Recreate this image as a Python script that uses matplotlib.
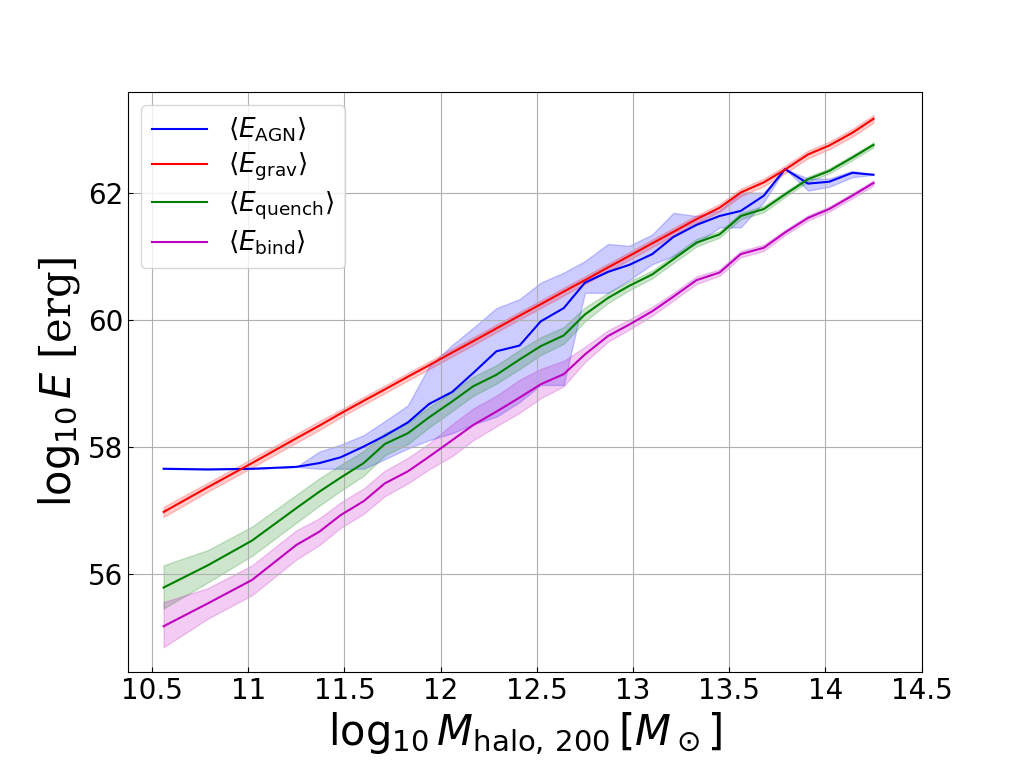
import matplotlib
matplotlib.use("Agg")
import matplotlib.pyplot as plt

# halo mass bins (log10 M_halo,200)
logM = [10.56, 10.79, 11.02, 11.25, 11.37, 11.48, 11.60, 11.71, 11.83, 11.94,
        12.06, 12.17, 12.29, 12.41, 12.52, 12.64, 12.75, 12.87, 12.98, 13.10,
        13.21, 13.33, 13.45, 13.56, 13.68, 13.79, 13.91, 14.02, 14.14, 14.25]

# <E_AGN>
E_agn = [57.65, 57.64, 57.65, 57.68, 57.74, 57.83, 58.00, 58.17, 58.38, 58.67,
         58.86, 59.16, 59.50, 59.59, 59.97, 60.18, 60.58, 60.75, 60.86, 61.03,
         61.30, 61.49, 61.63, 61.71, 61.95, 62.37, 62.14, 62.17, 62.31, 62.28]
E_agn_lo = [57.65, 57.64, 57.65, 57.68, 57.65, 57.65, 57.65, 57.80, 57.97, 58.10,
            58.21, 58.35, 58.47, 58.70, 58.97, 58.97, 60.42, 60.42, 60.62, 60.87,
            61.00, 61.20, 61.45, 61.45, 61.85, 62.37, 62.03, 62.09, 62.24, 62.28]
E_agn_hi = [57.65, 57.64, 57.65, 57.68, 57.92, 58.03, 58.18, 58.40, 58.65, 59.26,
            59.60, 59.87, 60.18, 60.32, 60.58, 60.74, 60.92, 61.19, 61.16, 61.34,
            61.68, 61.63, 61.72, 62.00, 62.00, 62.37, 62.22, 62.22, 62.34, 62.28]

# <E_grav>
E_grav = [56.97, 57.36, 57.74, 58.13, 58.33, 58.52, 58.72, 58.90, 59.10, 59.28,
          59.48, 59.66, 59.86, 60.06, 60.24, 60.44, 60.62, 60.82, 61.00, 61.20,
          61.38, 61.58, 61.76, 62.00, 62.16, 62.36, 62.60, 62.74, 62.94, 63.16]
E_grav_lo = [56.89, 57.29, 57.67, 58.06, 58.26, 58.46, 58.66, 58.84, 59.04, 59.22,
             59.42, 59.60, 59.80, 60.00, 60.18, 60.38, 60.56, 60.76, 60.94, 61.14,
             61.32, 61.52, 61.70, 61.94, 62.10, 62.30, 62.54, 62.68, 62.88, 63.10]
E_grav_hi = [57.05, 57.43, 57.81, 58.20, 58.40, 58.58, 58.78, 58.96, 59.16, 59.34,
             59.54, 59.72, 59.92, 60.12, 60.30, 60.50, 60.68, 60.88, 61.06, 61.26,
             61.44, 61.64, 61.82, 62.06, 62.22, 62.42, 62.66, 62.80, 63.00, 63.22]

# <E_quench>
E_quench = [55.78, 56.13, 56.52, 57.03, 57.29, 57.51, 57.74, 58.04, 58.21, 58.46,
            58.71, 58.95, 59.13, 59.37, 59.58, 59.75, 60.08, 60.34, 60.53, 60.71,
            60.95, 61.21, 61.34, 61.63, 61.74, 61.97, 62.21, 62.34, 62.55, 62.75]
E_quench_lo = [55.45, 55.86, 56.28, 56.80, 57.07, 57.30, 57.54, 57.86, 58.04, 58.30,
               58.56, 58.80, 58.99, 59.22, 59.44, 59.62, 59.97, 60.26, 60.46, 60.65,
               60.89, 61.15, 61.29, 61.58, 61.69, 61.93, 62.17, 62.30, 62.51, 62.71]
E_quench_hi = [56.13, 56.37, 56.74, 57.24, 57.50, 57.71, 57.93, 58.21, 58.38, 58.62,
               58.86, 59.10, 59.28, 59.52, 59.72, 59.88, 60.19, 60.42, 60.60, 60.77,
               61.01, 61.27, 61.39, 61.68, 61.79, 62.01, 62.25, 62.38, 62.59, 62.79]

# <E_bind>
E_bind = [55.17, 55.53, 55.90, 56.45, 56.66, 56.92, 57.14, 57.42, 57.61, 57.84,
          58.10, 58.34, 58.55, 58.77, 58.98, 59.14, 59.45, 59.74, 59.92, 60.13,
          60.36, 60.62, 60.74, 61.03, 61.13, 61.37, 61.60, 61.74, 61.95, 62.15]
E_bind_lo = [54.84, 55.29, 55.66, 56.22, 56.45, 56.72, 56.94, 57.22, 57.42, 57.64,
             57.85, 58.10, 58.32, 58.53, 58.76, 58.95, 59.33, 59.65, 59.84, 60.06,
             60.30, 60.56, 60.69, 60.98, 61.08, 61.33, 61.56, 61.70, 61.91, 62.11]
E_bind_hi = [55.55, 55.77, 56.13, 56.68, 56.87, 57.12, 57.34, 57.62, 57.82, 58.05,
             58.35, 58.60, 58.80, 59.05, 59.22, 59.35, 59.57, 59.83, 60.00, 60.20,
             60.42, 60.68, 60.79, 61.08, 61.18, 61.41, 61.64, 61.78, 61.99, 62.19]


def main():
    fig, ax = plt.subplots(figsize=(10.24, 7.68), dpi=100)
    fig.subplots_adjust(bottom=0.125)

    series = [
        (E_agn, E_agn_lo, E_agn_hi, 'b', r'$\langle E_{\rm AGN}\rangle$'),
        (E_grav, E_grav_lo, E_grav_hi, 'r', r'$\langle E_{\rm grav}\rangle$'),
        (E_quench, E_quench_lo, E_quench_hi, 'g', r'$\langle E_{\rm quench}\rangle$'),
        (E_bind, E_bind_lo, E_bind_hi, 'm', r'$\langle E_{\rm bind}\rangle$'),
    ]
    for y, lo, hi, c, lab in series:
        ax.plot(logM, y, color=c, lw=1.5, label=lab)
        ax.fill_between(logM, lo, hi, color=c, alpha=0.2)

    ax.set_xlim(10.375, 14.5)
    ax.set_ylim(54.45, 63.58)
    ax.set_xticks([10.5, 11, 11.5, 12, 12.5, 13, 13.5, 14, 14.5])
    ax.set_xticklabels(['10.5', '11', '11.5', '12', '12.5', '13', '13.5', '14', '14.5'])
    ax.set_yticks([56, 58, 60, 62])
    ax.tick_params(direction='in', labelsize=20)
    ax.grid(True)

    ax.set_xlabel(r'$\log_{10}M_{\rm halo,\,200}\,[M_\odot]$', fontsize=30)
    # "[erg]" is plain serif text, the math part stays in the sans mathtext font
    ax.set_ylabel(r'$\log_{10}E$ [erg]', fontsize=30, family='DejaVu Serif')
    ax.legend(loc='upper left', fontsize=19, handlelength=2.1,
              handletextpad=0.8, labelspacing=0.25)

    fig.savefig('out.png', dpi=100)


if __name__ == "__main__":
    main()
